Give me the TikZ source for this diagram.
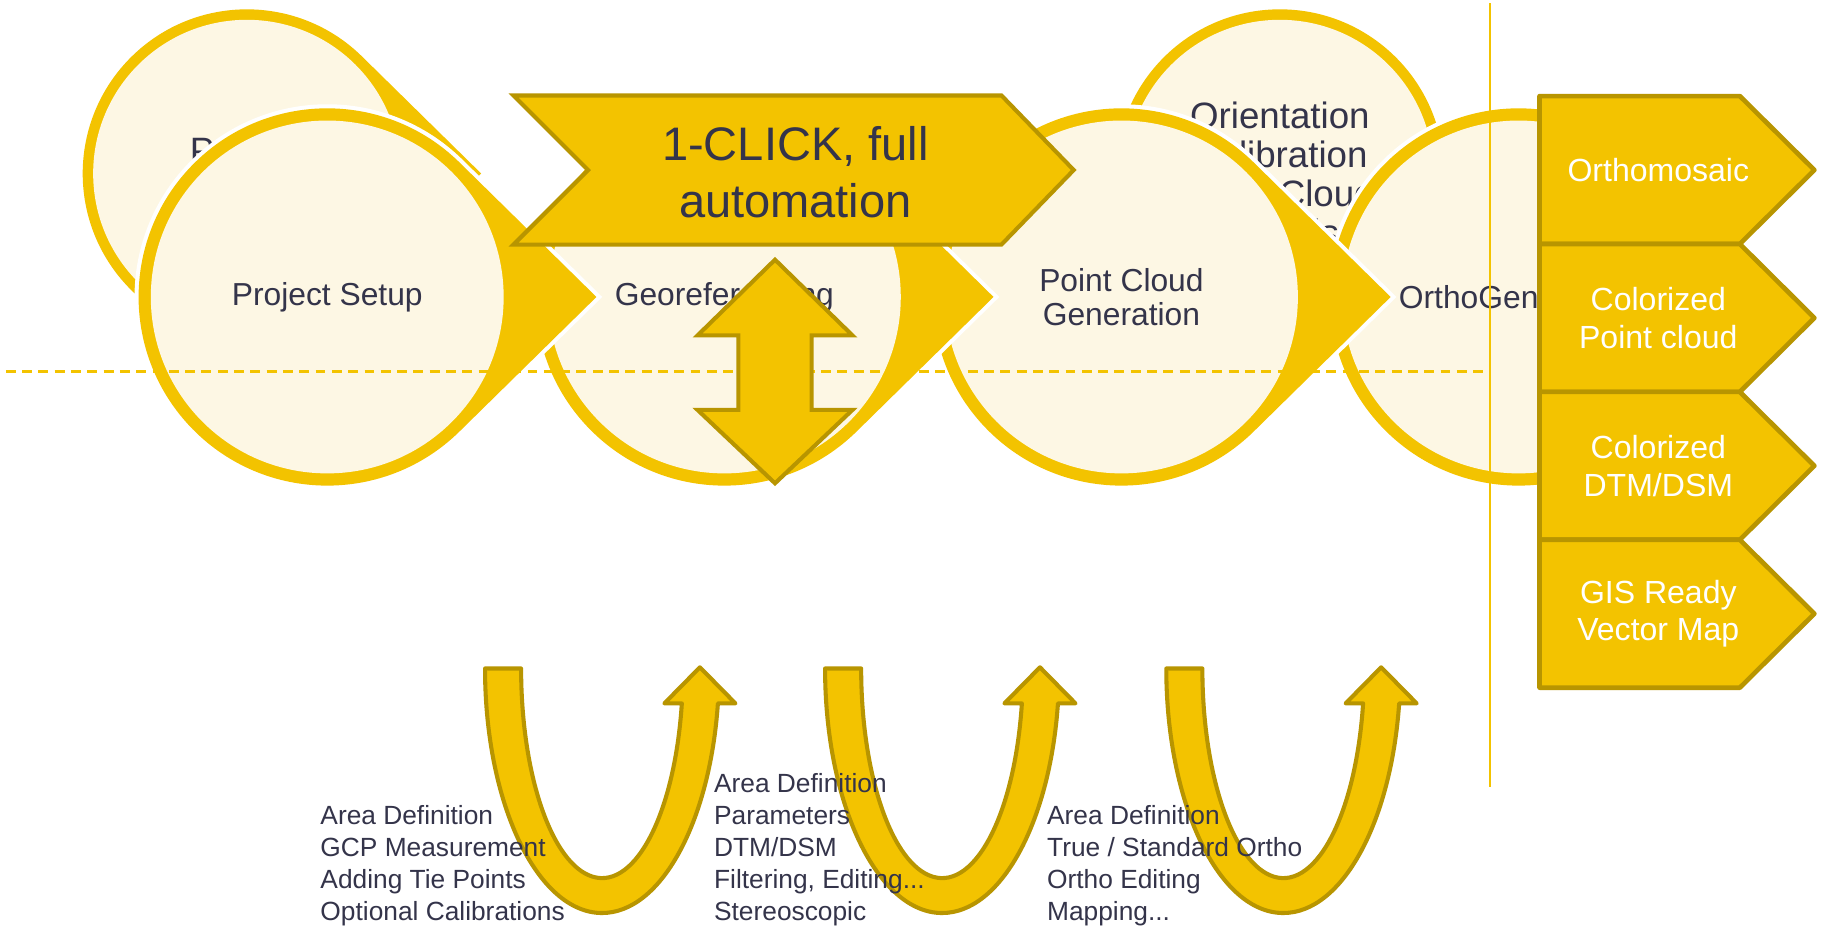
\documentclass[tikz,border=0pt]{standalone}
\usepackage{fontspec}
\setmainfont{Liberation Sans}
\definecolor{gold}{HTML}{F3C300}
\definecolor{darkgold}{HTML}{B89500}
\definecolor{cream}{HTML}{FDF7E4}
\definecolor{ink}{HTML}{34344A}

% teardrop: circle with a tangent wedge pointing right
% #1 = centre x, #2 = centre y, #3 = outer radius, #4 = ring width
\newcommand\teardrop[4]{%
  \fill[gold, preaction={draw=white, line width=7pt, line join=miter}]
    ({#1+#3*cos(45.5)},{#2+#3*sin(45.5)})
    arc[start angle=45.5, end angle=314.5, radius=#3]
    -- ({#1+#3/cos(45.5)},#2) -- cycle;
  \fill[cream] (#1,#2) circle[radius=#3-#4];
}
% plain ringed disc
\newcommand\ringdisc[4]{%
  \fill[gold, preaction={draw=white, line width=7pt}] (#1,#2) circle[radius=#3];
  \fill[cream] (#1,#2) circle[radius=#3-#4];
}

\tikzset{
  ctext/.style={font=\fontsize{27.3}{29.5}\selectfont, text=ink, align=center, inner sep=0pt},
  backtext/.style={font=\fontsize{31.5}{33.5}\selectfont, text=ink, align=center, inner sep=0pt},
  bigtext/.style={font=\fontsize{40.4}{49}\selectfont, text=ink, align=center, inner sep=0pt},
  outtext/.style={font=\fontsize{27.5}{32.3}\selectfont, text=white, align=center, inner sep=0pt},
  listtext/.style={font=\fontsize{22.6}{27.5}\selectfont, text=ink, anchor=base west, inner sep=0pt},
  banner/.style={fill=gold, draw=darkgold, line width=3.5pt, line join=miter},
  outbox/.style={fill=gold, draw=darkgold, line width=4pt, line join=round},
  loop/.style={fill=gold, draw=darkgold, line width=3.5pt, line join=round},
  guide/.style={draw=gold, line width=2pt},
}

\begin{document}
\begin{tikzpicture}[x=1pt, y=-1pt]
\useasboundingbox (0,0) rectangle (1568,796);
\fill[white] (0,0) rectangle (1568,796);

% rear row of steps
\teardrop{212}{149}{141}{9}
\node[backtext] (rearA) at (212,149) {Project\\Setup};
\ringdisc{1099}{149}{141}{9}
\node[backtext] (rearB) at (1099,149) {Orientation\\Calibration\\Point Cloud\\Models};

% front row of steps, drawn right to left so each tip overlaps its successor
\teardrop{1304}{255}{162}{10.5}
\node[ctext, anchor=west] (ortho) at (1201,255) {OrthoGen};
\teardrop{963}{255}{162}{10.5}
\node[ctext] (pcg) at (963,255) {Point Cloud\\Generation};
\teardrop{622}{255}{162}{10.5}
\node[ctext] (geo) at (622,255) {Georeferencing};
\teardrop{281}{255}{162}{10.5}
\node[ctext] (setup) at (281,255) {Project Setup};

% guide lines
\coordinate (hL) at (5,319);
\coordinate (hR) at (1279,319);
\coordinate (vT) at (1279.5,3);
\coordinate (vB) at (1279.5,676);
\draw[guide, dash pattern=on 8.5pt off 5.5pt] (hL) -- (hR);
\draw[guide] (vT) -- (vB);

% automation banner
\filldraw[banner] (441,82) -- (860,82) -- (922,146) -- (860,210) -- (441,210) -- (505,146) -- cycle;
\node[bigtext] (click) at (683,147.5) {1-CLICK, full\\automation};

% two-way arrow
\filldraw[banner] (665.5,223) -- (732,288) -- (697,288) -- (697,352) -- (732,352)
  -- (665.5,415) -- (599,352) -- (634,352) -- (634,288) -- (599,288) -- cycle;

% output products
\foreach \i/\txt/\nm in {0/Orthomosaic/outA, 1/{Colorized\\Point cloud}/outB,
                         2/{Colorized\\DTM/DSM}/outC, 3/{GIS Ready\\Vector Map}/outD} {
  \pgfmathsetmacro\top{82.5+127*\i}
  \pgfmathsetmacro\mid{\top+63.5}
  \pgfmathsetmacro\bot{\top+127}
  \filldraw[outbox] (1322,\top) -- (1494,\top) -- (1558,\mid) -- (1494,\bot) -- (1322,\bot) -- cycle;
  \node[outtext] (\nm) at (1424,\mid) {\txt};
}

% iteration loops
\foreach \cx in {517,809,1102} {
  \filldraw[loop] ({\cx-100.5},574)
    arc[start angle=180, end angle=8.21, x radius=100.5, y radius=210]
    -- ({\cx+114.5},604) -- ({\cx+84},573) -- ({\cx+53.5},604) -- ({\cx+68.5},604)
    arc[start angle=9.59, end angle=180, x radius=69.5, y radius=180]
    -- cycle;
}

% task lists
\node[listtext] (a1) at (275,708) {Area Definition};
\node[listtext] (a2) at (275,735.5) {GCP Measurement};
\node[listtext] (a3) at (275,763) {Adding Tie Points};
\node[listtext] (a4) at (275,790.5) {Optional Calibrations};

\node[listtext] (b1) at (613,680.5) {Area Definition};
\node[listtext] (b2) at (613,708) {Parameters};
\node[listtext] (b3) at (613,735.5) {DTM/DSM};
\node[listtext] (b4) at (613,763) {Filtering, Editing...};
\node[listtext] (b5) at (613,790.5) {Stereoscopic};

\node[listtext] (c1) at (899,708) {Area Definition};
\node[listtext] (c2) at (899,735.5) {True / Standard Ortho};
\node[listtext] (c3) at (899,763) {Ortho Editing};
\node[listtext] (c4) at (899,790.5) {Mapping...};
\end{tikzpicture}
\end{document}
